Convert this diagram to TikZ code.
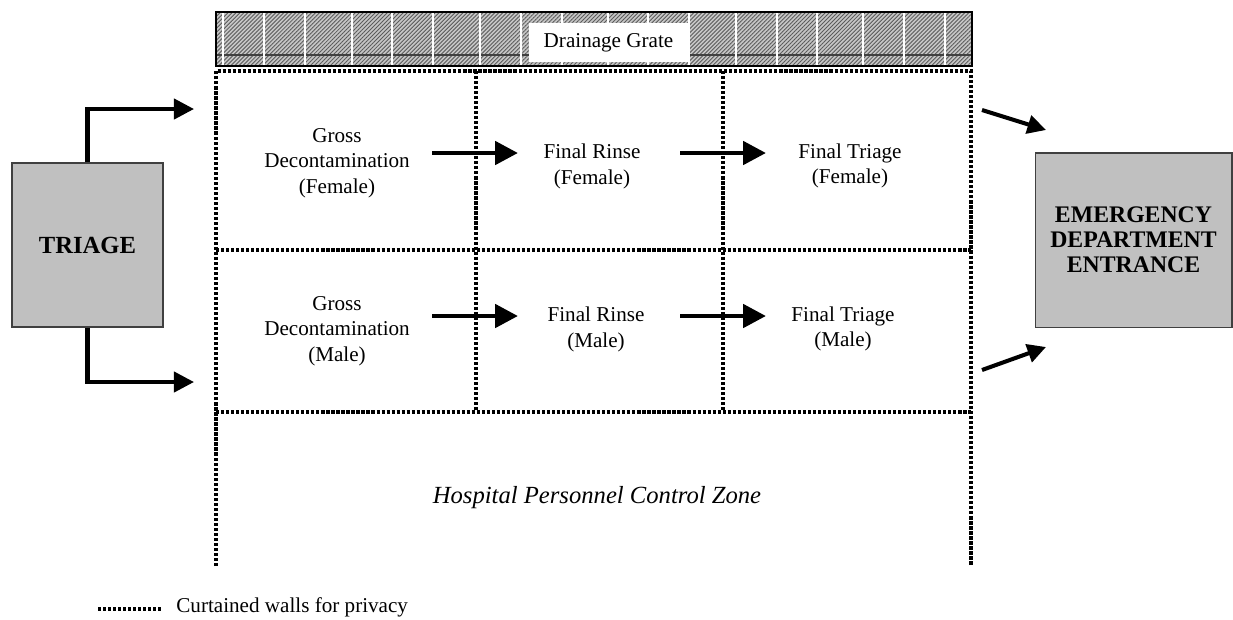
\documentclass[tikz,border=0pt]{standalone}
\usepackage{fontspec}
\setmainfont{Liberation Serif}
\usetikzlibrary{arrows.meta,patterns.meta}
\definecolor{boxgray}{HTML}{C0C0C0}
\definecolor{boxline}{HTML}{404040}
\tikzset{
  wall/.style={line width=1.9pt, dash pattern=on 1.8pt off 1.05pt},
  graybox/.style={draw=boxline, line width=0.6pt, fill=boxgray, align=center, inner sep=0pt},
  label/.style={align=center, inner sep=0pt, font=\fontsize{12}{14.5}\selectfont},
  flow/.style={line width=2.8pt, -{Triangle[length=13pt,width=13pt]}},
  tflow/.style={line width=2.3pt, -{Triangle[length=11.4pt,width=11.4pt]}},
  eflow/.style={line width=2.3pt, -{Triangle[length=10.5pt,width=10.5pt]}},
}
\begin{document}
\begin{tikzpicture}[x=0.5682pt,y=-0.5682pt]
\useasboundingbox (0,0) rectangle (1233,619);

% drainage grate
\fill[gray!45] (216,12) rectangle (972,66);
\fill[pattern={Lines[angle=45,distance=1.6pt,line width=0.5pt]}, pattern color=gray!70!black] (216,12) rectangle (972,66);
\draw[gray!50!black, line width=0.6pt] (216,55) -- (972,55);
\foreach \x in {223,264,305,352,392,433,480,521,562,608,648,689,736,777,817,863,904,945}
  \draw[white, line width=0.6pt] (\x,12) -- (\x,66);
\draw[line width=0.9pt] (216,12) rectangle (972,66);
\node[label, fill=white, minimum width=90.3pt, minimum height=22.2pt] (grate) at (608.5,42.5) {Drainage Grate};

% curtained walls
\draw[wall] (216,566) -- (216,71) -- (971,71) -- (971,566);
\draw[wall] (216,250) -- (971,250);
\draw[wall] (216,412) -- (971,412);
\draw[wall] (476,71) -- (476,412);
\draw[wall] (723,71) -- (723,412);

% boxes
\node[graybox, minimum width=85.8pt, minimum height=93.2pt, font=\bfseries\fontsize{14}{16}\selectfont] (triage) at (87.5,245) {TRIAGE};
\node[graybox, minimum width=111.9pt, minimum height=98.9pt, font=\bfseries\fontsize{13.5}{14.2}\selectfont] (ed) at (1133.5,240) {EMERGENCY\\DEPARTMENT\\ENTRANCE};

% station labels
\node[label] (gdf) at (337,163) {Gross\\Decontamination\\(Female)};
\node[label] (rf) at (592,166.5) {Final Rinse\\(Female)};
\node[label] (ftf) at (850,166) {Final Triage\\(Female)};
\node[label] (gdm) at (337,331) {Gross\\Decontamination\\(Male)};
\node[label] (rm) at (596,329.5) {Final Rinse\\(Male)};
\node[label] (ftm) at (843,329) {Final Triage\\(Male)};

\node[label, font=\itshape\fontsize{14}{16}\selectfont] (zone) at (597,498) {Hospital Personnel Control Zone};

% arrow end points
\coordinate (tinF) at (194,109);
\coordinate (tinM) at (194,382);
\coordinate (a1s) at (432,153); \coordinate (a1e) at (518,153);
\coordinate (a2s) at (680,153); \coordinate (a2e) at (766,153);
\coordinate (a3s) at (432,316); \coordinate (a3e) at (518,316);
\coordinate (a4s) at (680,316); \coordinate (a4e) at (766,316);
\coordinate (e1s) at (982,110); \coordinate (e1e) at (1046,130);
\coordinate (e2s) at (982,370); \coordinate (e2e) at (1046,347);

\draw[tflow] (triage.north) |- (tinF);
\draw[tflow] (triage.south) |- (tinM);
\draw[flow] (a1s) -- (a1e);
\draw[flow] (a2s) -- (a2e);
\draw[flow] (a3s) -- (a3e);
\draw[flow] (a4s) -- (a4e);
\draw[eflow] (e1s) -- (e1e);
\draw[eflow] (e2s) -- (e2e);

% legend
\coordinate (lg1) at (98,609);
\coordinate (lg2) at (162,609);
\draw[wall] (lg1) -- (lg2);
\node[label, anchor=west] (legend) at (176,607) {Curtained walls for privacy};
\end{tikzpicture}
\end{document}
